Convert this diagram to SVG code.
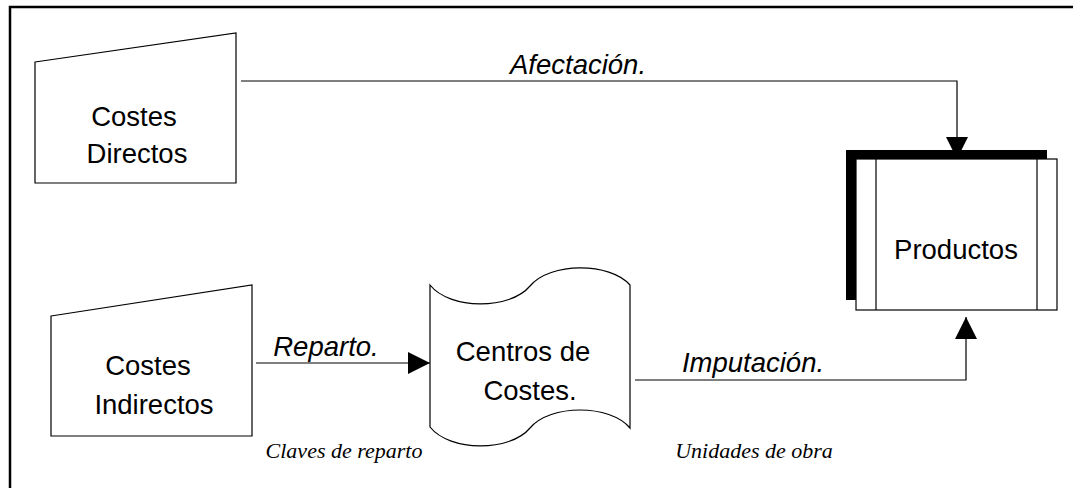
<svg xmlns="http://www.w3.org/2000/svg" width="1073" height="488" viewBox="0 0 1073 488">
<style>
.shape{fill:#fff;stroke:#000;stroke-width:1.2}
.lbl{font-family:"Liberation Sans",Arial,sans-serif;font-size:27.5px;fill:#000;text-anchor:middle}
.it{font-family:"Liberation Sans",Arial,sans-serif;font-size:27.5px;font-style:italic;fill:#000;text-anchor:middle}
.note{font-family:"Liberation Serif","Times New Roman",serif;font-size:22px;font-style:italic;fill:#000;text-anchor:middle}
.conn{fill:none;stroke:#000;stroke-width:1.2}
</style>
<defs>
<marker id="arr" viewBox="0 0 22 22" refX="22" refY="11" markerWidth="22" markerHeight="22" markerUnits="userSpaceOnUse" orient="auto">
<path d="M0,0 L22,11 L0,22 Z" fill="#000"/>
</marker>
</defs>
<rect x="0" y="0" width="1073" height="488" fill="#fff"/>
<rect x="10" y="7" width="1100" height="520" fill="none" stroke="#000" stroke-width="2.5"/>
<g id="costes-directos">
<path class="shape" d="M35,62 L236,33 L236,183 L35,183 Z"/>
<text class="lbl" x="134" y="126">Costes</text>
<text class="lbl" x="137" y="163">Directos</text>
</g>
<g id="costes-indirectos">
<path class="shape" d="M51,316 L252,285 L252,436 L51,436 Z"/>
<text class="lbl" x="148" y="375">Costes</text>
<text class="lbl" x="154" y="414">Indirectos</text>
</g>
<g id="centros-de-costes">
<path class="shape" d="M430,285 C450,310 510,310 530,286 C550,262 610,262 630,285 L630,428 C610,404 550,404 530,428 C510,452 450,452 430,427 Z"/>
<text class="lbl" x="523" y="361">Centros de</text>
<text class="lbl" x="530" y="400">Costes.</text>
</g>
<g id="productos">
<rect x="846" y="150" width="201" height="150" fill="#000"/>
<rect class="shape" x="856" y="159" width="201" height="151"/>
<line class="shape" x1="876" y1="159" x2="876" y2="310"/>
<line class="shape" x1="1037" y1="159" x2="1037" y2="310"/>
<text class="lbl" x="956" y="259">Productos</text>
</g>
<g id="connectors">
<path class="conn" d="M241,81 L957,81 L957,159" marker-end="url(#arr)"/>
<path class="conn" d="M256,363 L430,363" marker-end="url(#arr)"/>
<path class="conn" d="M635,380 L966,380 L966,317" marker-end="url(#arr)"/>
</g>
<g id="labels">
<text class="it" x="578" y="74">Afectación.</text>
<text class="it" x="326" y="356">Reparto.</text>
<text class="it" x="753" y="372">Imputación.</text>
<text class="note" x="344" y="458">Claves de reparto</text>
<text class="note" x="754" y="458">Unidades de obra</text>
</g>
</svg>
